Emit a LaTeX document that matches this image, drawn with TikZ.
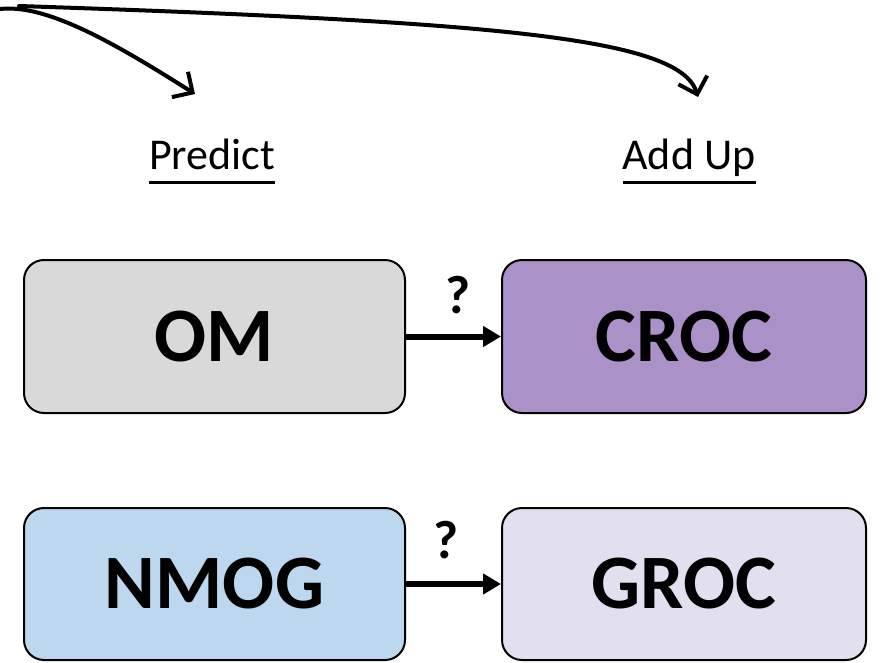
\documentclass[tikz,border=0pt]{standalone}
\usepackage{fontspec}
\setmainfont{Carlito}
\usetikzlibrary{arrows.meta}
\definecolor{omgray}{HTML}{D9D9D9}
\definecolor{crocpurple}{HTML}{AA92C8}
\definecolor{nmogblue}{HTML}{BDD7EE}
\definecolor{groclav}{HTML}{E2DFEE}
% thick underline placed below the baseline
\newcommand{\thickul}[1]{\setbox0\hbox{#1}\rlap{\raisebox{-14.5pt}{\rule{\wd0}{3pt}}}\box0}
\tikzset{
  x=1pt, y=-1pt,
  mbox/.style={draw=black, line width=2pt, rounded corners=20pt,
    minimum width=381pt, minimum height=153pt, inner sep=0pt,
    font=\fontsize{77}{80}\selectfont\bfseries},
  headlabel/.style={inner sep=0pt, font=\fontsize{44}{48}\selectfont},
  qmark/.style={inner sep=0pt, font=\fontsize{54}{58}\selectfont\bfseries},
  linkarrow/.style={line width=6pt, -{Triangle[length=18pt,width=20pt]}},
  swoop/.style={line width=4pt, line cap=round,
    -{Straight Barb[length=15pt,width=30pt,line width=4pt]}},
}
\begin{document}
\begin{tikzpicture}
\useasboundingbox (0,0) rectangle (889,662);

% boxes
\node[mbox, fill=omgray, minimum width=381pt] (om) at (214.5,336.5) {OM};
\node[mbox, fill=crocpurple, minimum width=364pt] (croc) at (684,336.5) {CROC};
\node[mbox, fill=nmogblue, minimum width=381pt, minimum height=152pt] (nmog) at (214.5,584) {NMOG};
\node[mbox, fill=groclav, minimum width=364pt, minimum height=152pt] (groc) at (684,584) {GROC};

% links between boxes
\draw[linkarrow] (om.east) -- (croc.west);
\draw[linkarrow] (nmog.east) -- (groc.west);
\node[qmark, anchor=base] (q1) at (458,313) {?};
\node[qmark, anchor=base] (q2) at (446,558) {?};

% column headings
\node[headlabel, anchor=base] (predict) at (212,169) {\thickul{Predict}};
\node[headlabel, anchor=base] (addup) at (689,169) {\thickul{Add Up}};

% curved pointers from the top-left corner
\coordinate (srcA) at (0,9);
\coordinate (tipA) at (195,94);
\coordinate (srcB) at (19,6);
\coordinate (tipB) at (698,97);
\draw[swoop] (srcA) .. controls (45,4) and (110,40) .. (tipA);
\draw[swoop] (srcB) .. controls (500,22) and (680,38) .. (tipB);
\end{tikzpicture}
\end{document}
